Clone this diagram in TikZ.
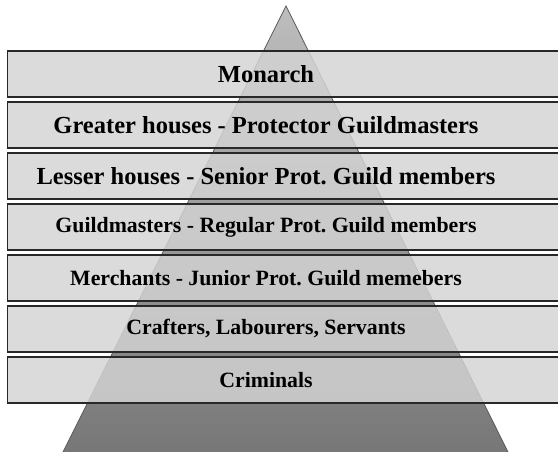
\documentclass[tikz,border=0pt]{standalone}
\usepackage{fontspec}
\setmainfont{Liberation Serif}
\definecolor{tritop}{RGB}{189,189,189}
\definecolor{tribot}{RGB}{119,119,119}
\definecolor{triline}{RGB}{90,90,90}
\definecolor{barfill}{RGB}{212,212,212}
\definecolor{barline}{RGB}{40,40,40}
\frenchspacing
\begin{document}
\begin{tikzpicture}[x=1pt,y=-1pt,
  barbox/.style={draw=barline, line width=1.4pt, fill=barfill, fill opacity=0.83, draw opacity=1},
  tierlabel/.style={font=\bfseries\fontsize{#1}{28}\selectfont, text=black, inner sep=0pt}]
\useasboundingbox (0,0) rectangle (558,452);
\fill[white] (0,0) rectangle (558,452);
\clip (0,0) rectangle (558,452);
\coordinate (apex) at (286,6);
\coordinate (bl) at (63,452);
\coordinate (br) at (508,452);
\shade[top color=tritop, bottom color=tribot] (apex) -- (br) -- (bl) -- cycle;
\draw[triline, line width=0.8pt, line join=miter] (bl) -- (apex) -- (br);
\foreach \i/\s/\t in {0/24.5/{Monarch},
                   1/24.5/{Greater houses - Protector Guildmasters},
                   2/24.5/{Lesser houses - Senior Prot. Guild members},
                   3/21.8/{Guildmasters - Regular Prot. Guild members},
                   4/21.8/{Merchants - Junior Prot. Guild memebers},
                   5/21.8/{Crafters, Labourers, Servants},
                   6/21.8/{Criminals}} {
  \pgfmathsetmacro{\ytop}{51+51*\i}
  \draw[barbox] (7.5,\ytop) rectangle (580,\ytop+46);
  \node[tierlabel=\s] (tier\i) at (266,\ytop+23) {\t};
}
\end{tikzpicture}
\end{document}
